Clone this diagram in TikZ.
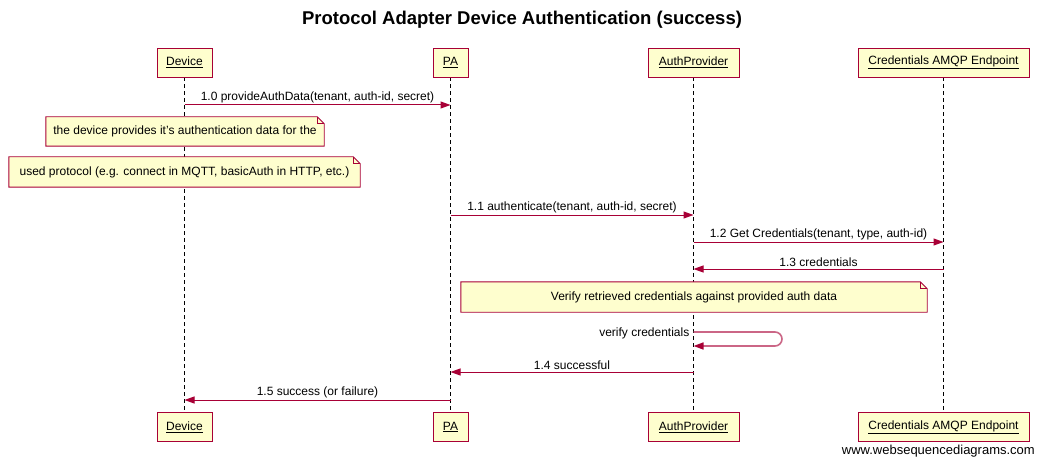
\documentclass[tikz,border=0pt]{standalone}
\usepackage{fontspec}
\setmainfont{Liberation Sans}
\usetikzlibrary{arrows.meta,calc}
\pgfdeclarelayer{bg}
\pgfdeclarelayer{lines}
\pgfdeclarelayer{notes}
\pgfsetlayers{bg,lines,notes,main}
\definecolor{boxfill}{HTML}{FEFECE}
\definecolor{crim}{HTML}{A80036}
\tikzset{
  actor/.style={draw=crim, fill=boxfill, line width=0.9pt, minimum height=29pt, inner sep=0pt, font=\fontsize{12}{14}\selectfont},
  lifeline/.style={draw=black, dashed, dash pattern=on 4pt off 3pt, line width=0.8pt},
  msg/.style={draw=crim, line width=1pt, -{Triangle[length=10pt,width=7pt]}},
  selfmsg/.style={draw=crim!60!white, line width=1.6pt, rounded corners=7pt, -{Triangle[length=10pt,width=7pt,color=crim]}},
  msglabel/.style={font=\fontsize{12}{14}\selectfont, inner sep=1.5pt, anchor=south},
  notetext/.style={inner sep=0pt, font=\fontsize{12}{14}\selectfont},
  notebox/.style={draw=crim, fill=boxfill, line width=0.9pt},
}
\newcommand{\notedraw}[1]{%
  \begin{pgfonlayer}{notes}
  \path[notebox] (#1.south west) -- (#1.south east) -- ([yshift=-7pt]#1.north east) -- ([xshift=-7pt]#1.north east) -- (#1.north west) -- cycle;
  \draw[crim, line width=0.7pt] ([xshift=-7pt]#1.north east) -- ([xshift=-7pt,yshift=-7pt]#1.north east) -- ([yshift=-7pt]#1.north east);
  \end{pgfonlayer}}
\begin{document}
\begin{tikzpicture}[x=1pt,y=-1pt]
\useasboundingbox (0,0) rectangle (1043,465);
\begin{pgfonlayer}{bg}
\fill[white] (0,0) rectangle (1043,465);
\end{pgfonlayer}
% title
\node[font=\bfseries\fontsize{18.5}{22}\selectfont] (title) at (522,20) {Protocol Adapter Device Authentication (success)};
% actors top
\node[actor, minimum width=55pt] (devT) at (184.5,62.5) {\underline{Device}};
\node[actor, minimum width=35pt] (paT) at (450.5,62.5) {\underline{PA}};
\node[actor, minimum width=91pt] (apT) at (693.5,62.5) {\underline{AuthProvider}};
\node[actor, minimum width=171pt] (ceT) at (943.5,62.5) {\underline{Credentials AMQP Endpoint}};
% actors bottom
\node[actor, minimum width=55pt] (devB) at (184.5,427) {\underline{Device}};
\node[actor, minimum width=35pt] (paB) at (450.5,427) {\underline{PA}};
\node[actor, minimum width=91pt] (apB) at (693.5,427) {\underline{AuthProvider}};
\node[actor, minimum width=171pt] (ceB) at (943.5,427) {\underline{Credentials AMQP Endpoint}};
% lifelines
\begin{pgfonlayer}{lines}
\draw[lifeline] (devT) -- (devB);
\draw[lifeline] (paT) -- (paB);
\draw[lifeline] (apT) -- (apB);
\draw[lifeline] (ceT) -- (ceB);
\end{pgfonlayer}
% message points
\coordinate (m0a) at (184.5,105); \coordinate (m0b) at (450.5,105);
\coordinate (m1a) at (450.5,215); \coordinate (m1b) at (693.5,215);
\coordinate (m2a) at (693.5,242); \coordinate (m2b) at (943.5,242);
\coordinate (m3a) at (943.5,269); \coordinate (m3b) at (693.5,269);
\coordinate (sla) at (693.5,332); \coordinate (slr) at (782,332); \coordinate (slb) at (693.5,346);
\coordinate (m4a) at (693.5,372); \coordinate (m4b) at (450.5,372);
\coordinate (m5a) at (450.5,400); \coordinate (m5b) at (184.5,400);
% messages
\draw[msg] (m0a) -- node[msglabel] (l0) {1.0 provideAuthData(tenant, auth-id, secret)} (m0b);
\draw[msg] (m1a) -- node[msglabel] (l1) {1.1 authenticate(tenant, auth-id, secret)} (m1b);
\draw[msg] (m2a) -- node[msglabel] (l2) {1.2 Get Credentials(tenant, type, auth-id)} (m2b);
\draw[msg] (m3a) -- node[msglabel] (l3) {1.3 credentials} (m3b);
\draw[selfmsg] (sla) -- (slr) -- (slr |- slb) -- (slb);
\node[notetext, anchor=east] (lsl) at ([xshift=-4pt,yshift=-1pt]sla) {verify credentials};
\draw[msg] (m4a) -- node[msglabel] (l4) {1.4 successful} (m4b);
\draw[msg] (m5a) -- node[msglabel] (l5) {1.5 success (or failure)} (m5b);
% notes
\node[notetext, minimum width=278pt, minimum height=29pt] (n1) at (185,131.5) {the device provides it's authentication data for the};
\notedraw{n1}
\node[notetext, minimum width=351pt, minimum height=30pt] (n2) at (184.5,172) {used protocol (e.g. connect in MQTT, basicAuth in HTTP, etc.)};
\notedraw{n2}
\node[notetext, minimum width=466pt, minimum height=30pt] (n3) at (694,297) {Verify retrieved credentials against provided auth data};
\notedraw{n3}
% watermark
\node[font=\fontsize{13}{15}\selectfont, anchor=east, inner sep=0pt] (wm) at (1035,451) {www.websequencediagrams.com};
\end{tikzpicture}
\end{document}
